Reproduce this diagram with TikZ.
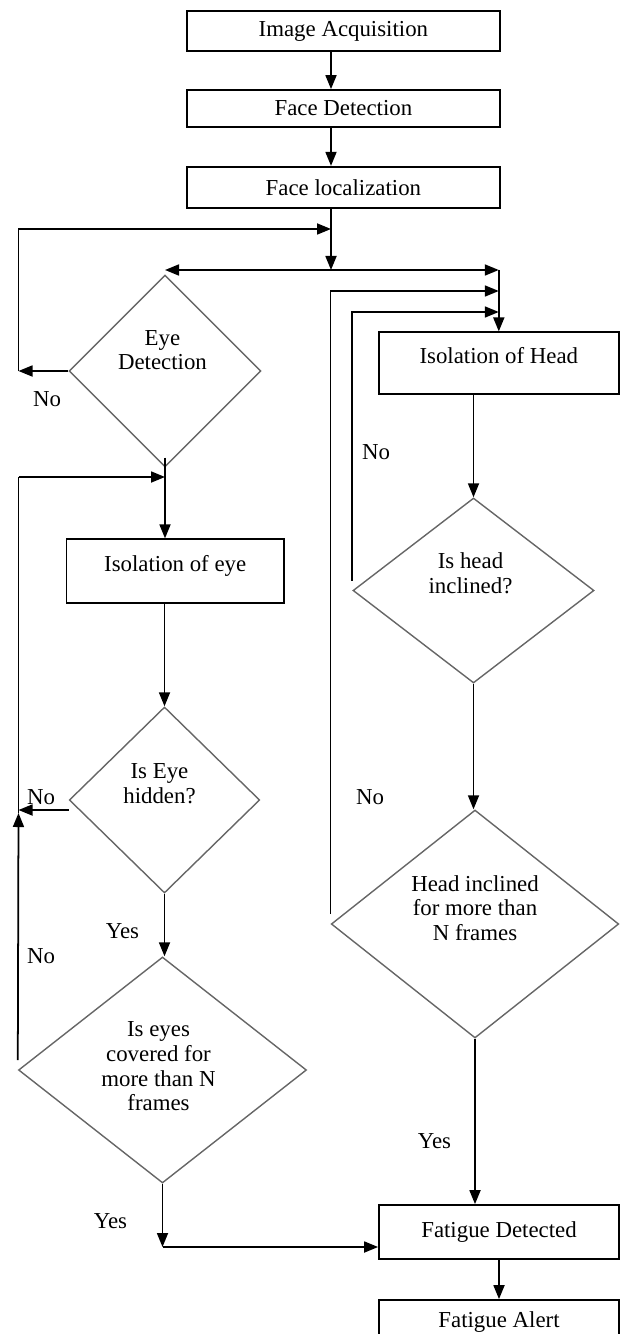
\documentclass[tikz,border=0pt]{standalone}
\usepackage{fontspec}
\setmainfont{Liberation Serif}
\usetikzlibrary{shapes.geometric, arrows.meta, positioning}

\begin{document}
\begin{tikzpicture}[
    font=\fontsize{13}{14}\selectfont,
    box/.style={draw, rectangle, line width=1pt, inner sep=0pt, align=center},
    tallbox/.style={box, text height=0.33cm, text depth=0.33cm},
    decision/.style={draw=black!60, diamond, line width=0.8pt, inner sep=0pt},
    dtext/.style={align=center, inner sep=0pt},
    arrow/.style={-{Triangle[length=0.28cm, width=0.22cm]}, line width=1pt},
    line/.style={line width=1pt},
    answer/.style={inner sep=0pt}
]
\useasboundingbox (0,0) rectangle (12.4,-26.68);

% Top chain
\node[box, minimum width=6.27cm, minimum height=0.80cm] (acq) at (6.868,-0.62) {Image Acquisition};
\node[box, minimum width=6.27cm, minimum height=0.74cm] (facedet) at (6.868,-2.17) {Face Detection};
\node[box, minimum width=6.27cm, minimum height=0.83cm] (faceloc) at (6.868,-3.75) {Face localization};

% Eye branch
\node[decision, minimum width=3.84cm, minimum height=3.84cm,
      label={[dtext, xshift=-0.05cm, yshift=0.42cm]center:Eye\\Detection}] (eyedet) at (3.30,-7.42) {};
\node[tallbox, minimum width=4.35cm, minimum height=1.27cm] (isoeye) at (3.504,-11.42) {Isolation of eye};
\node[decision, minimum width=3.81cm, minimum height=3.72cm,
      label={[dtext, xshift=-0.10cm, yshift=0.33cm]center:Is Eye\\hidden?}] (eyehid) at (3.29,-16.00) {};
\node[decision, minimum width=5.76cm, minimum height=4.52cm,
      label={[dtext, xshift=-0.08cm, yshift=0.07cm]center:Is eyes\\covered for\\more than N\\frames}] (eyecov) at (3.25,-21.40) {};

% Head branch
\node[tallbox, minimum width=4.80cm, minimum height=1.24cm] (isohead) at (9.976,-7.266) {Isolation of Head};
\node[decision, minimum width=4.82cm, minimum height=3.70cm,
      label={[dtext, xshift=-0.06cm, yshift=0.34cm]center:Is head\\inclined?}] (headinc) at (9.47,-11.81) {};
\node[decision, minimum width=5.75cm, minimum height=4.56cm,
      label={[dtext, yshift=0.32cm]center:Head inclined\\for more than\\N frames}] (headN) at (9.50,-18.48) {};

% Outcome
\node[box, minimum width=4.80cm, minimum height=1.08cm] (fatdet) at (9.98,-24.64) {Fatigue Detected};
\node[box, minimum width=4.80cm, minimum height=1.08cm, text depth=0.3cm] (fatalert) at (9.98,-26.54) {Fatigue Alert};

% Junctions
\coordinate (J1) at (6.62,-5.40);
\coordinate (looptop) at (0.37,-4.58);
\coordinate (looplow) at (0.37,-9.54);
\coordinate (uptip) at (0.37,-16.26);
\coordinate (feedA) at (9.976,-5.82);
\coordinate (feedB) at (9.976,-6.24);
\coordinate (yescorner) at (3.25,-24.94);

% Arrows
\draw[arrow] (acq.south -| J1) -- (facedet.north -| J1);
\draw[arrow] (facedet.south -| J1) -- (faceloc.north -| J1);
\draw[arrow] (faceloc.south -| J1) -- (J1);
\draw[arrow] (J1) -- (eyedet.north |- J1);
\draw[arrow] (J1) -- (isohead.north |- J1);
\draw[arrow] (isohead.north |- J1) -- (isohead.north);
\draw[arrow] ([yshift=0.2cm]headN.west) |- (feedA);
\draw[arrow] ([yshift=0.2cm]headinc.west) |- (feedB);
\draw[arrow] (eyedet.west) -- (eyedet.west -| looptop);
\draw[arrow] (eyedet.west -| looptop) -- (looptop) -- (looptop -| J1);
\draw[arrow] ([yshift=0.2cm]eyedet.south) -- (eyedet.south |- isoeye.north);
\draw[arrow] (looplow) -- (looplow -| eyedet.south);
\draw[arrow] (eyehid.north |- isoeye.south) -- (eyehid.north);
\draw[arrow] ([yshift=-0.2cm]eyehid.west) -- ([yshift=-0.2cm]eyehid.west -| uptip);
\draw[arrow] ([yshift=0.2cm]eyecov.west) -- (uptip);
\draw[line] (uptip) -- (looplow);
\draw[arrow] (eyehid.south) -- (eyehid.south |- eyecov.north);
\draw[arrow] (eyecov.south) -- (yescorner);
\draw[arrow] (yescorner) -- (yescorner -| fatdet.west);
\draw[arrow] (headinc.north |- isohead.south) -- (headinc.north);
\draw[arrow] (headinc.south) -- (headinc.south |- headN.north);
\draw[arrow] (headN.south) -- (headN.south |- fatdet.north);
\draw[arrow] (fatdet.south) -- (fatalert.north);

% Answers
\node[answer] (no1) at (0.94,-7.98) {No};
\node[answer] (no2) at (7.52,-9.04) {No};
\node[answer] (no3) at (0.82,-15.94) {No};
\node[answer] (no4) at (7.40,-15.95) {No};
\node[answer] (yes1) at (2.45,-18.63) {Yes};
\node[answer] (no5) at (0.82,-19.13) {No};
\node[answer] (yes2) at (8.69,-22.83) {Yes};
\node[answer] (yes3) at (2.21,-24.42) {Yes};

\end{tikzpicture}
\end{document}
